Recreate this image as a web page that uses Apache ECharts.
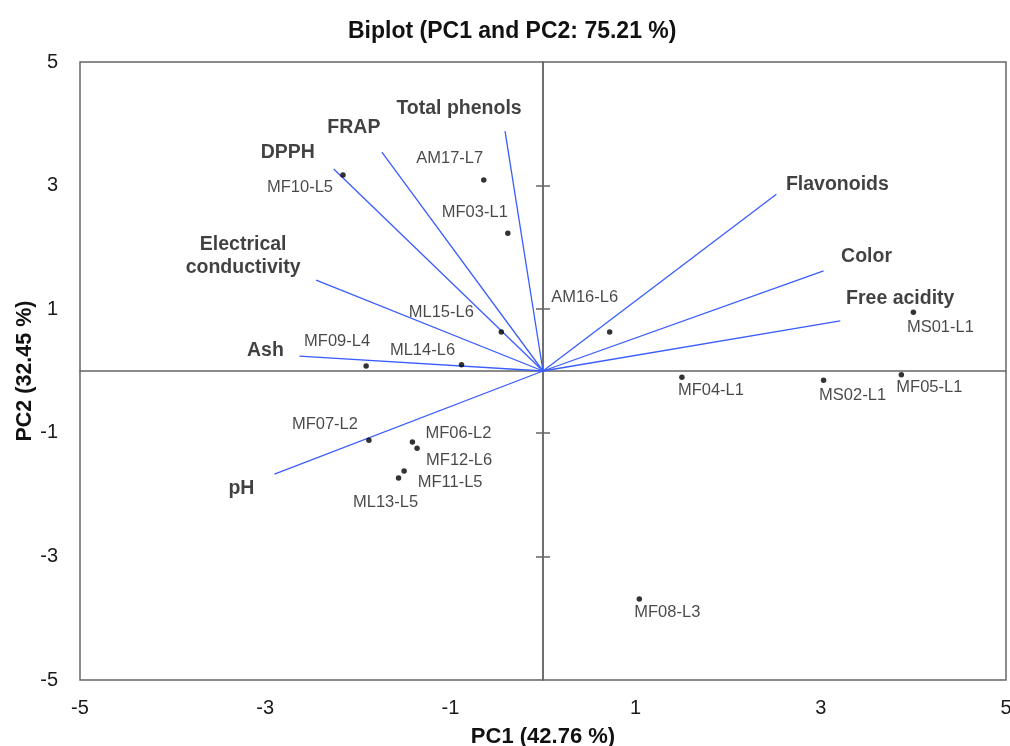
<!DOCTYPE html>
<html>
<head>
<meta charset="utf-8">
<script src="https://cdn.jsdelivr.net/npm/echarts@6/dist/echarts.min.js"></script>
<style>html,body{margin:0;padding:0;background:#fff}#c{width:1010px;height:746px}</style>
</head>
<body>
<div id="c"></div>
<script>
// ---- data ----
const sampleNames = ['MF10-L5','AM17-L7','MF03-L1','ML15-L6','MF09-L4','ML14-L6','AM16-L6','MS01-L1','MF04-L1','MS02-L1','MF05-L1','MF07-L2','MF06-L2','MF12-L6','MF11-L5','ML13-L5','MF08-L3'];
const samplePC1 = [-2.16,-0.64,-0.38,-0.45,-1.91,-0.88,0.72,4.00,1.50,3.03,3.87,-1.88,-1.41,-1.36,-1.50,-1.56,1.04];
const samplePC2 = [3.17,3.09,2.23,0.63,0.08,0.10,0.63,0.95,-0.10,-0.15,-0.06,-1.12,-1.15,-1.25,-1.62,-1.73,-3.69];

const varNames = ['Total phenols','FRAP','DPPH','Electrical\nconductivity','Ash','pH','Flavonoids','Color','Free acidity'];
const varPC1 = [-0.41,-1.74,-2.26,-2.45,-2.63,-2.90,2.52,3.03,3.21];
const varPC2 = [3.88,3.54,3.27,1.47,0.24,-1.67,2.86,1.62,0.81];

const tickValues = [-5,-3,-1,1,3,5];
const zeroTickValues = [-3,-1,1,3];

// ---- label placement (style) ----
const sampleLabelOffset = {
  'MF10-L5':[-43,12],'AM17-L7':[-34,-22],'MF03-L1':[-33,-21],'ML15-L6':[-60,-20],
  'MF09-L4':[-29,-25],'ML14-L6':[-39,-14],'AM16-L6':[-25,-35],'MS01-L1':[27,15],
  'MF04-L1':[29,13],'MS02-L1':[29,15],'MF05-L1':[28,13],'MF07-L2':[-44,-16],
  'MF06-L2':[46,-9],'MF12-L6':[42,12],'MF11-L5':[46,11],'ML13-L5':[-13,25],'MF08-L3':[28,13]
};
const varLabelOffset = {
  'Total phenols':[-46,-23],'FRAP':[-28,-25],'DPPH':[-46,-16],'Electrical\nconductivity':[-73,-24],
  'Ash':[-34,-6],'pH':[-33,14],'Flavonoids':[61,-10],'Color':[43,-14],'Free acidity':[60,-22]
};

const FONT = 'Liberation Sans, Arial, sans-serif';
const BLUE = '#3a5cff';
const AXIS_GRAY = '#666';

const chart = echarts.init(document.getElementById('c'), null, {renderer:'canvas'});

const series = [];
varNames.forEach((n,i)=>{
  series.push({
    type:'line', xAxisIndex:0, yAxisIndex:0,
    data:[[0,0],[varPC1[i],varPC2[i]]],
    showSymbol:false, symbol:'none', silent:true,
    lineStyle:{color:BLUE,width:1.3}, z:3, animation:false
  });
});
series.push({
  type:'scatter', xAxisIndex:0, yAxisIndex:0, symbolSize:0.1, silent:true, animation:false,
  data: varNames.map((n,i)=>({
    value:[varPC1[i],varPC2[i]], name:n,
    label:{show:true, position:'inside', offset:varLabelOffset[n], formatter:n,
      fontFamily:FONT, fontWeight:'bold', fontSize:19.5, color:'#111', align:'center', verticalAlign:'middle', lineHeight:23}
  })),
  z:5
});
series.push({
  type:'scatter', xAxisIndex:0, yAxisIndex:0, symbolSize:5.5, silent:true, animation:false,
  itemStyle:{color:'#000'},
  data: sampleNames.map((n,i)=>({
    value:[samplePC1[i],samplePC2[i]], name:n,
    label:{show:true, position:'inside', offset:sampleLabelOffset[n], formatter:n,
      fontFamily:FONT, fontSize:16.5, color:'#1a1a1a', align:'center', verticalAlign:'middle'}
  })),
  z:6
});

const baseVal = {type:'value', min:-5, max:5, splitLine:{show:false}};

chart.setOption({
  animation:false,
  backgroundColor:'#fff',
  title:{text:'Biplot (PC1 and PC2: 75.21 %)', left:343, top:15,
    textStyle:{fontFamily:FONT, fontWeight:'bold', fontSize:23, color:'#111'}},
  grid:{left:80, right:4, top:62, bottom:66, containLabel:false, outerBoundsMode:'none',
    show:true, borderColor:AXIS_GRAY, borderWidth:1.5, backgroundColor:'transparent'},
  xAxis:[
    Object.assign({}, baseVal, {
      position:'bottom',
      axisLine:{show:false, onZero:false},
      axisTick:{show:false},
      axisLabel:{customValues:tickValues, fontFamily:FONT, fontSize:20, color:'#1a1a1a', margin:18},
      name:'PC1 (42.76 %)', nameLocation:'middle', nameGap:46, nameMoveOverlap:false,
      nameTextStyle:{fontFamily:FONT, fontWeight:'bold', fontSize:22, color:'#111'}
    }),
    Object.assign({}, baseVal, {
      axisLine:{show:true, onZero:true, onZeroAxisIndex:0, lineStyle:{color:AXIS_GRAY, width:1.5}},
      axisTick:{show:false}, axisLabel:{show:false}
    })
  ],
  yAxis:[
    Object.assign({}, baseVal, {
      position:'left',
      axisLine:{show:false, onZero:false},
      axisTick:{show:false},
      axisLabel:{customValues:tickValues, fontFamily:FONT, fontSize:20, color:'#1a1a1a', margin:22},
      name:'PC2 (32.45 %)', nameLocation:'middle', nameGap:44, nameMoveOverlap:false,
      nameTextStyle:{fontFamily:FONT, fontWeight:'bold', fontSize:21.5, color:'#111'}
    }),
    Object.assign({}, baseVal, {
      position:'left',
      axisLine:{show:true, onZero:true, onZeroAxisIndex:0, lineStyle:{color:AXIS_GRAY, width:1.5}},
      axisTick:{show:true, inside:true, length:7, customValues:zeroTickValues, lineStyle:{color:AXIS_GRAY, width:1.5}},
      axisLabel:{show:false}
    }),
    Object.assign({}, baseVal, {
      position:'left',
      axisLine:{show:true, onZero:true, onZeroAxisIndex:0, lineStyle:{color:AXIS_GRAY, width:1.5}},
      axisTick:{show:true, inside:false, length:7, customValues:zeroTickValues, lineStyle:{color:AXIS_GRAY, width:1.5}},
      axisLabel:{show:false}
    })
  ],
  series: series
});
</script>
</body>
</html>
